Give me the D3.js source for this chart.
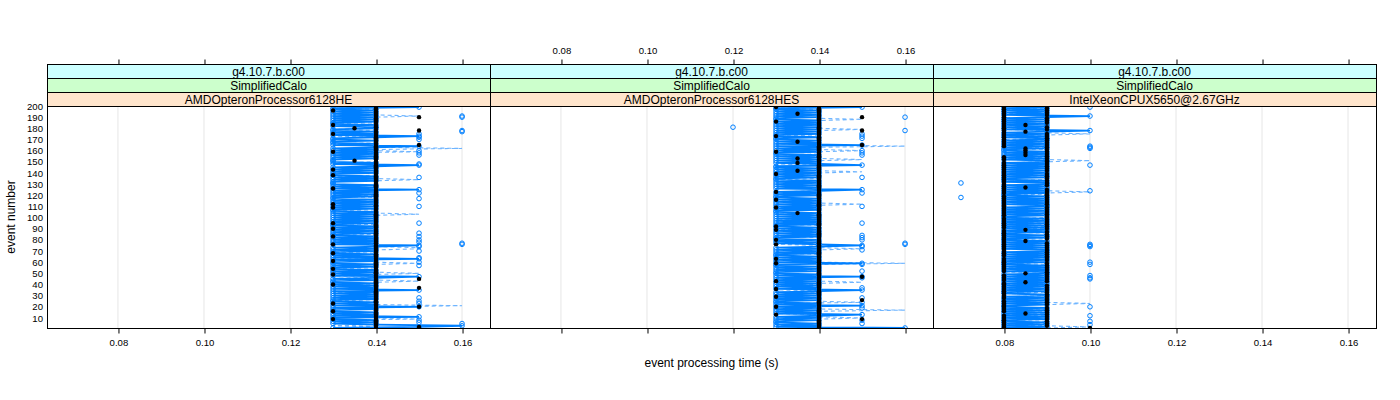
<!DOCTYPE html>
<html>
<head>
<meta charset="utf-8">
<script src="https://cdn.jsdelivr.net/npm/d3@7"></script>
<style>
  body { margin: 0; background: #fff; }
  text { font-family: "Liberation Sans", Arial, Helvetica, sans-serif; }
</style>
</head>
<body>
<svg id="chart" width="1400" height="400"></svg>
<script>
'use strict';

// strip labels
const stripTop = "g4.10.7.b.c00";
const stripMid = "SimplifiedCalo";
const machines = ["AMDOpteronProcessor6128HE", "AMDOpteronProcessor6128HES", "IntelXeonCPUX5650@2.67GHz"];

const xTicks = [0.08, 0.10, 0.12, 0.14, 0.16];
const yTicks = [10, 20, 30, 40, 50, 60, 70, 80, 90, 100, 110, 120, 130, 140, 150, 160, 170, 180, 190, 200];

// one character per event (event 1 first)
const timeCodes = {"7": 0.07, "8": 0.08, "h": 0.085, "9": 0.09, "0": 0.10, "2": 0.12,
                   "3": 0.13, "k": 0.135, "4": 0.14, "5": 0.15, "6": 0.16};

const heSolid  = "3564343433 5343433435 3434334343 4343534343 4334345343 4343343433 4353434334 3434534343 4343343434 3433434343 " +
                 "4343433434 3434343343 4343534343 3343434334 3434345343 3343434343 4345343343 3453434334 4343343434 3434343354";
const heDashed = "4434444354 4443444434 6444434444 4434444434 4454443445 4443444454 4434444434 4554443444 4443444434 4434444344 " +
                 "4454434444 4443444434 4434444344 4445443444 4434444434 4443444354 4644434444 4434444434 4443444434 5434444344";
const heDots   = "4544444434 4444434445 4434444444 4444445443 4444544434 4443444444 3444444344 4444434444 4434444443 4444344444 " +
                 "4444444434 4344444444 4444434444 4444444344 4434444444 k444444434 4444544444 444434454k 4434444445 4444434444";
const heExtraEvents = [175, 172, 170, 160, 158, 156, 148, 136, 122, 117, 110, 95, 86, 83, 80, 78, 74, 70, 64, 60, 57, 28, 25, 23, 8, 6,
                       191, 190, 178, 177, 77, 76, 5];
const heExtraTimes  = [0.15, 0.15, 0.15, 0.15, 0.15, 0.15, 0.15, 0.15, 0.15, 0.15, 0.15, 0.15, 0.15, 0.15, 0.15, 0.15, 0.15, 0.15, 0.15, 0.15, 0.15, 0.15, 0.15, 0.15, 0.15, 0.15,
                       0.16, 0.16, 0.16, 0.16, 0.16, 0.16, 0.16];

const hesSolid  = "6343433434 3453434343 5343343434 3434534343 4343435343 3434343353 4343433434 3434543434 3343434343 4334343434 " +
                  "3434334343 4343434334 3434534343 4343343434 3434335434 3434343343 4343534343 3433434343 4343434334 3434343353";
const hesDashed = "4434444445 4443446444 4435444434 4443444434 4544434444 4434444464 4443444344 4544434444 4434444434 4443444344 " +
                  "4434444434 4544434444 4434444344 4443444434 5434444344 4544434445 4446434444 4434444454 4443444544 4434444344";
const hesDots   = "4444444454 4434444443 4444454434 4444434444 4434445444 4444444434 4434444444 4444434443 4444444434 4344444444 " +
                  "444k444434 4444434444 4434444444 4444444434 4k444444k4 44k4444434 4444544k44 4434444544 4444434445 44k4444434";
const hesExtraEvents = [175, 173, 171, 160, 158, 156, 136, 122, 110, 95, 84, 82, 80, 74, 71, 58, 52, 46, 37, 28, 24, 19, 8, 5,
                        190, 178, 77, 76, 181];
const hesExtraTimes  = [0.15, 0.15, 0.15, 0.15, 0.15, 0.15, 0.15, 0.15, 0.15, 0.15, 0.15, 0.15, 0.15, 0.15, 0.15, 0.15, 0.15, 0.15, 0.15, 0.15, 0.15, 0.15, 0.15, 0.15,
                        0.16, 0.16, 0.16, 0.16, 0.12];

const xeonSolid  = "8989898898 9898989898 8989898989 9889898989 8989898989 9898989889 8989898989 9898989898 8989889898 9898989898 " +
                   "8989898989 9898989898 8989898989 9898898989 8989898989 9898989898 8989898989 9898989089 8989898989 0898989898";
const xeonDashed = "9098999899 9989998999 9909899989 9899989998 9989998999 8999899989 9989998999 9899989998 9989998999 8999899989 " +
                   "9989998999 9899989998 9909899989 9989998999 8999899989 0989998999 9899989998 9989099989 8999899989 9989998999";
const xeonDots   = "0898989898 989h989898 8989899898 9898989898 8h9898989h 9898989898 8989989898 98989898h8 98989898h9 8989898989 " +
                   "9898989898 8989898989 989898h898 9898989898 8989898989 98989h9h9h 9h98989898 989898h898 98h8989898 8989898989";
const xeonExtraEvents = [199, 164, 163, 162, 147, 124, 76, 75, 74, 60, 58, 48, 46, 45, 20, 12, 7, 4, 131, 118];
const xeonExtraTimes  = [0.10, 0.10, 0.10, 0.10, 0.10, 0.10, 0.10, 0.10, 0.10, 0.10, 0.10, 0.10, 0.10, 0.10, 0.10, 0.10, 0.10, 0.10, 0.07, 0.07];

function decode(codes) {
    return codes.replace(/ /g, "").split("").map((c, i) => ({event: i + 1, time: timeCodes[c]}));
}
function pairs(events, times) {
    return events.map((e, i) => ({event: e, time: times[i]}));
}

const panelData = [
    {solid: decode(heSolid), dashed: decode(heDashed), dots: decode(heDots), extra: pairs(heExtraEvents, heExtraTimes)},
    {solid: decode(hesSolid), dashed: decode(hesDashed), dots: decode(hesDots), extra: pairs(hesExtraEvents, hesExtraTimes)},
    {solid: decode(xeonSolid), dashed: decode(xeonDashed), dots: decode(xeonDots), extra: pairs(xeonExtraEvents, xeonExtraTimes)}
];

const svg = d3.select("#chart");
const panelLeft = 47, panelW = 443, panelTop = 106, panelBottom = 328, stripH = 14;
const stripColors = ["#ccffff", "#ccffcc", "#ffe5cc"];
const blue = "#0080ff";

const y = d3.scaleLinear().domain([1, 200]).range([panelBottom, panelTop]);

panelData.forEach((pd, i) => {
    const x0 = panelLeft + i * panelW;
    const x = d3.scaleLinear().domain([0.0635, 0.1665]).range([x0, x0 + panelW]);
    const line = d3.line().x(d => x(d.time)).y(d => y(d.event));

    svg.append("clipPath").attr("id", "clip" + i)
        .append("rect").attr("x", x0).attr("y", panelTop).attr("width", panelW).attr("height", panelBottom - panelTop);

    const g = svg.append("g").attr("clip-path", `url(#clip${i})`);

    g.selectAll(".grid").data(xTicks).enter().append("line")
        .attr("x1", d => x(d)).attr("x2", d => x(d))
        .attr("y1", panelTop).attr("y2", panelBottom)
        .attr("stroke", "#e6e6e6");

    g.append("path").datum(pd.dashed)
        .attr("d", line).attr("fill", "none").attr("stroke", "#6fb5ff")
        .attr("stroke-width", 1.1).attr("stroke-dasharray", "4,3");

    g.append("path").datum(pd.solid)
        .attr("d", line).attr("fill", "none").attr("stroke", blue).attr("stroke-width", 1.8);

    g.selectAll(".circ").data(pd.solid.concat(pd.extra)).enter().append("circle")
        .attr("cx", d => x(d.time)).attr("cy", d => y(d.event)).attr("r", 2.3)
        .attr("fill", "none").attr("stroke", blue).attr("stroke-width", 1);

    g.selectAll(".dot").data(pd.dots).enter().append("circle")
        .attr("cx", d => x(d.time)).attr("cy", d => y(d.event)).attr("r", 2.2)
        .attr("fill", "#000");

    // panel border
    svg.append("rect").attr("x", x0 + 0.5).attr("y", panelTop + 0.5)
        .attr("width", panelW).attr("height", panelBottom - panelTop)
        .attr("fill", "none").attr("stroke", "#000");

    // strips
    const labels = [stripTop, stripMid, machines[i]];
    labels.forEach((lab, k) => {
        const sy = panelTop - stripH * (3 - k);
        svg.append("rect").attr("x", x0 + 0.5).attr("y", sy + 0.5)
            .attr("width", panelW).attr("height", stripH)
            .attr("fill", stripColors[k]).attr("stroke", "#000");
        svg.append("text").attr("x", x0 + panelW / 2).attr("y", sy + stripH / 2 + 0.5)
            .attr("text-anchor", "middle").attr("dominant-baseline", "central")
            .attr("font-size", 12).text(lab);
    });

    // axes: labels alternate bottom / top
    const fmt = d3.format(".2f");
    const bottomAxis = d3.axisBottom(x).tickValues(xTicks).tickSize(5).tickPadding(6)
        .tickFormat(i % 2 === 0 ? fmt : "");
    const topAxis = d3.axisTop(x).tickValues(xTicks).tickSize(5).tickPadding(6)
        .tickFormat(i % 2 === 1 ? fmt : "");

    const ab = svg.append("g").attr("transform", `translate(0.5,${panelBottom + 0.5})`).call(bottomAxis);
    const at = svg.append("g").attr("transform", `translate(0.5,${panelTop - 3 * stripH + 0.5})`).call(topAxis);
    [ab, at].forEach(a => {
        a.select(".domain").remove();
        a.selectAll("text").attr("font-size", 9.6).attr("font-family", "Liberation Sans, Arial, sans-serif").attr("fill", "#000");
        a.selectAll("line").attr("stroke", "#000");
    });
});

// y axis on the left panel
const yAxis = d3.axisLeft(y).tickValues(yTicks).tickSize(0).tickPadding(4);
const ay = svg.append("g").attr("transform", `translate(${panelLeft},0)`).call(yAxis);
ay.select(".domain").remove();
ay.selectAll("text").attr("font-size", 9.6).attr("font-family", "Liberation Sans, Arial, sans-serif").attr("fill", "#000");

svg.append("text").attr("x", panelLeft + 1.5 * panelW).attr("y", 367)
    .attr("text-anchor", "middle").attr("font-size", 12).text("event processing time (s)");

svg.append("text").attr("transform", `translate(15,${(panelTop + panelBottom) / 2}) rotate(-90)`)
    .attr("text-anchor", "middle").attr("font-size", 12).text("event number");
</script>
</body>
</html>
